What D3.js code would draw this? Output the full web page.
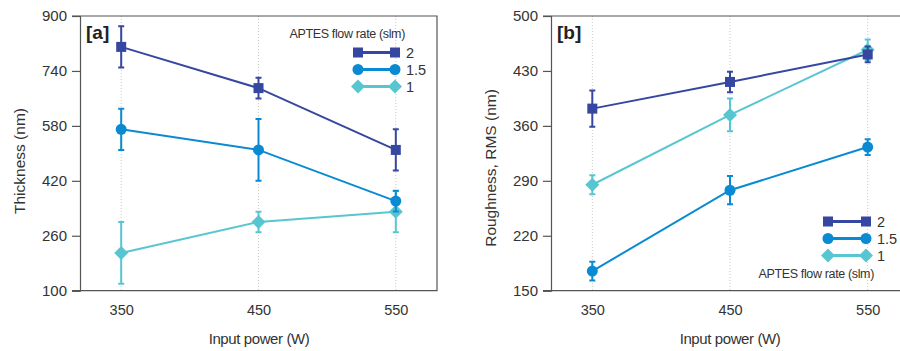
<!DOCTYPE html>
<html>
<head>
<meta charset="utf-8">
<script src="https://d3js.org/d3.v7.min.js"></script>
<style>
  body { margin: 0; background: #fff; }
  svg { display: block; font-family: "Liberation Sans", Arial, sans-serif; }
</style>
</head>
<body>
<div id="chart"></div>
<script>
// x categories (input power, W)
const powers = [350, 450, 550];
const flowRates = ['2', '1.5', '1'];
const colors = ['#3547a0', '#0a8ad2', '#58c6d0'];
const shapes = ['square', 'circle', 'diamond'];

// panel a: thickness (nm)
const thickness = [
  [810, 690, 510],
  [570, 510, 361],
  [210, 300, 330]
];
const thicknessErr = [
  [60, 30, 60],
  [60, 90, 30],
  [90, 30, 60]
];
const thicknessTicks = [100, 260, 420, 580, 740, 900];

// panel b: roughness, RMS (nm)
const roughness = [
  [382, 416, 451],
  [175, 278, 333],
  [285, 374, 457]
];
const roughnessErr = [
  [23, 13, 10],
  [12, 18, 10],
  [12, 21, 13]
];
const roughnessTicks = [150, 220, 290, 360, 430, 500];

const W = 900, H = 351;
const svg = d3.select('#chart').append('svg').attr('width', W).attr('height', H);

function marker(g, shape, color, cx, cy) {
  if (shape === 'square') {
    g.append('rect').attr('x', cx - 5).attr('y', cy - 5).attr('width', 10).attr('height', 10).attr('fill', color);
  } else if (shape === 'circle') {
    g.append('circle').attr('cx', cx).attr('cy', cy).attr('r', 5.5).attr('fill', color);
  } else {
    g.append('path').attr('d', `M${cx},${cy - 7}L${cx + 7},${cy}L${cx},${cy + 7}L${cx - 7},${cy}Z`).attr('fill', color);
  }
}

function panel(opts) {
  const { left, right, top, bottom, values, errs, ticks, yTitle, tag, legend } = opts;
  const x = d3.scaleLinear().domain([320, 580]).range([left, right]);
  const y = d3.scaleLinear().domain([ticks[0], ticks[ticks.length - 1]]).range([bottom, top]);
  const g = svg.append('g');

  // dotted vertical grid
  g.selectAll('line.grid').data(powers).enter().append('line')
    .attr('x1', d => x(d)).attr('x2', d => x(d))
    .attr('y1', top).attr('y2', bottom)
    .attr('stroke', '#c8c8c8').attr('stroke-width', 1).attr('stroke-dasharray', '1,2');

  // frame
  g.append('path')
    .attr('d', `M${left - 8},${top}H${right}V${bottom}H${left - 8}`)
    .attr('fill', 'none').attr('stroke', '#555').attr('stroke-width', 1.2);

  // y axis
  const ya = g.append('g').attr('transform', `translate(${left},0)`)
    .call(d3.axisLeft(y).tickValues(ticks).tickSize(8).tickPadding(5));
  ya.select('.domain').attr('stroke', '#555').attr('stroke-width', 1.2);
  ya.selectAll('.tick line').attr('stroke', '#555').attr('stroke-width', 1.2);
  ya.selectAll('text').attr('font-size', 15).attr('fill', '#333').attr('font-family', null);

  // x axis labels
  const xa = g.append('g').attr('transform', `translate(0,${bottom})`)
    .call(d3.axisBottom(x).tickValues(powers).tickSize(0).tickPadding(14));
  xa.select('.domain').remove();
  xa.selectAll('text').attr('font-size', 14.5).attr('fill', '#333').attr('font-family', null);

  g.append('text').attr('x', opts.xTitleX).attr('y', 344)
    .attr('text-anchor', 'middle').attr('font-size', 15).attr('letter-spacing', -0.4)
    .attr('fill', '#333').text('Input power (W)');
  g.append('text')
    .attr('transform', `translate(${opts.yTitleX},${opts.yTitleY}) rotate(-90)`)
    .attr('text-anchor', 'middle').attr('dominant-baseline', 'central')
    .attr('font-size', 15.5).attr('fill', '#333').text(yTitle);

  g.append('text').attr('x', left + 6).attr('y', 39).attr('font-size', 19).attr('font-weight', 'bold')
    .attr('fill', '#222').text(tag);

  // series, drawn bottom to top so the darkest is on top
  for (let s = values.length - 1; s >= 0; s--) {
    const pts = powers.map((p, i) => ({ p, v: values[s][i], e: errs[s][i] }));
    const sg = g.append('g');
    sg.selectAll('line.err').data(pts).enter().append('path')
      .attr('d', d => `M${x(d.p)},${y(d.v - d.e)}V${y(d.v + d.e)}M${x(d.p) - 3},${y(d.v + d.e)}h6M${x(d.p) - 3},${y(d.v - d.e)}h6`)
      .attr('stroke', colors[s]).attr('stroke-width', 2).attr('fill', 'none');
    sg.append('path').datum(pts)
      .attr('d', d3.line().x(d => x(d.p)).y(d => y(d.v)))
      .attr('fill', 'none').attr('stroke', colors[s]).attr('stroke-width', 2);
    pts.forEach(d => marker(sg, shapes[s], colors[s], x(d.p), y(d.v)));
  }

  // legend
  const lg = g.append('g');
  flowRates.forEach((f, i) => {
    const ly = legend.y0 + i * 17;
    lg.append('line').attr('x1', legend.x1).attr('x2', legend.x2).attr('y1', ly).attr('y2', ly)
      .attr('stroke', colors[i]).attr('stroke-width', 3);
    marker(lg, shapes[i], colors[i], legend.x1, ly);
    marker(lg, shapes[i], colors[i], legend.x2, ly);
    lg.append('text').attr('x', legend.x2 + 11).attr('y', ly).attr('dominant-baseline', 'central')
      .attr('font-size', 14.5).attr('fill', '#333').text(f);
  });
  lg.append('text').attr('x', legend.titleX).attr('y', legend.titleY).attr('text-anchor', 'end')
    .attr('dominant-baseline', 'central').attr('font-size', 12.5).attr('letter-spacing', -0.35)
    .attr('fill', '#333').text('APTES flow rate (slm)');
}

panel({
  left: 80, right: 437, top: 16, bottom: 290.7,
  values: thickness, errs: thicknessErr, ticks: thicknessTicks,
  yTitle: 'Thickness (nm)', yTitleX: 19, yTitleY: 161, xTitleX: 259, tag: '[a]',
  legend: { x1: 358, x2: 395, y0: 52.5, titleX: 405, titleY: 34 }
});

panel({
  left: 551, right: 909, top: 16, bottom: 290.7,
  values: roughness, errs: roughnessErr, ticks: roughnessTicks,
  yTitle: 'Roughness, RMS (nm)', yTitleX: 490, yTitleY: 168, xTitleX: 730, tag: '[b]',
  legend: { x1: 828, x2: 866, y0: 221.5, titleX: 874, titleY: 274 }
});
</script>
</body>
</html>
